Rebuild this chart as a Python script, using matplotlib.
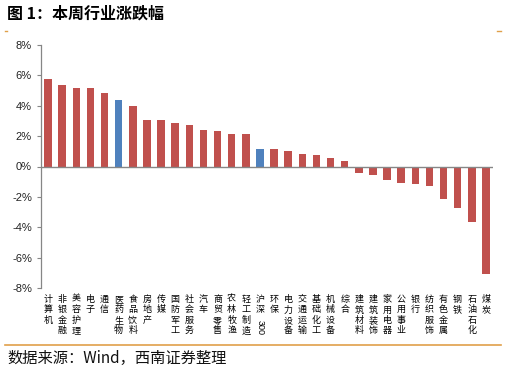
import numpy as np
import matplotlib
matplotlib.use("Agg")
import matplotlib.pyplot as plt
from matplotlib.lines import Line2D

plt.rcParams['font.family'] = ['Noto Sans CJK SC', 'DejaVu Sans']

#---------------------------------------------------------- Data
industries = ["计算机", "非银金融", "美容护理", "电子", "通信", "医药生物", "食品饮料",
              "房地产", "传媒", "国防军工", "社会服务", "汽车", "商贸零售", "农林牧渔",
              "轻工制造", "沪深300", "环保", "电力设备", "交通运输", "基础化工", "机械设备",
              "综合", "建筑材料", "建筑装饰", "家用电器", "公用事业", "银行", "纺织服饰",
              "有色金属", "钢铁", "石油石化", "煤炭"]
changes = [5.75, 5.35, 5.20, 5.20, 4.87, 4.41, 4.00, 3.04, 3.04, 2.84, 2.75, 2.40,
           2.31, 2.16, 2.16, 1.16, 1.15, 0.99, 0.84, 0.73, 0.55, 0.33, -0.40, -0.55,
           -0.86, -1.10, -1.15, -1.26, -2.11, -2.71, -3.66, -7.11]
highlight = ["医药生物", "沪深300"]
y_ticks = [8, 6, 4, 2, 0, -2, -4, -6, -8]

RED = "#C0504D"
BLUE = "#4F81BD"
ORANGE = "#E0A04A"

#---------------------------------------------------------- Figure
fig = plt.figure(figsize=(5.07, 3.76), dpi=100)
ax = fig.add_axes([41 / 507, 1 - 288 / 376, (493 - 41) / 507, (288 - 45) / 376])

x = np.arange(len(industries))
colors = [BLUE if name in highlight else RED for name in industries]
ax.bar(x, changes, width=0.53, color=colors, zorder=2)

ax.set_xlim(-0.5, len(industries) - 0.5)
ax.set_ylim(-8, 8)
ax.set_yticks(y_ticks)
ax.set_yticklabels([f"{v}%" for v in y_ticks], family=['Liberation Sans', 'DejaVu Sans'],
                   fontsize=8, color="#222222")
ax.tick_params(axis='y', length=3, width=0.8, color="#868686", pad=3.5, direction='out')
ax.set_xticks([])

for side in ["top", "right", "bottom"]:
    ax.spines[side].set_visible(False)
ax.spines["left"].set_color("#868686")
ax.spines["left"].set_linewidth(0.9)
ax.axhline(0, color="#868686", lw=1.0, zorder=3)

# vertical category labels
for i, name in enumerate(industries):
    if name == "沪深300":
        ax.annotate("沪\n深", xy=(i, 0), xycoords=('data', 'axes fraction'),
                    xytext=(0, -5), textcoords='offset points', ha='center', va='top',
                    fontsize=6.5, linespacing=1.2)
        ax.annotate("300", xy=(i, 0), xycoords=('data', 'axes fraction'),
                    xytext=(0, -23), textcoords='offset points', ha='center', va='top',
                    rotation=-90, fontsize=6.5, family=['Liberation Sans', 'DejaVu Sans'])
    else:
        ax.annotate("\n".join(name), xy=(i, 0), xycoords=('data', 'axes fraction'),
                    xytext=(0, -5), textcoords='offset points', ha='center', va='top',
                    fontsize=6.5, linespacing=1.2)

#---------------------------------------------------------- Title, source, rules
fig.text(7 / 507, 1 - 14 / 376, "图 1：本周行业涨跌幅", fontsize=11.5, fontweight='bold',
         ha='left', va='center')
fig.text(7 / 507, 1 - 358 / 376, "数据来源：Wind，西南证券整理", fontsize=11, style='italic',
         ha='left', va='center', color="#111111")

fig.add_artist(Line2D([5 / 507, 501 / 507], [1 - 345 / 376, 1 - 345 / 376],
                      color=ORANGE, lw=1.2, transform=fig.transFigure))
fig.add_artist(Line2D([5 / 507, 7 / 507], [1 - 31 / 376, 1 - 31 / 376],
                      color=ORANGE, lw=1.0, transform=fig.transFigure))
fig.add_artist(Line2D([497 / 507, 501 / 507], [1 - 31 / 376, 1 - 31 / 376],
                      color=ORANGE, lw=1.0, transform=fig.transFigure))

fig.savefig("out.png", dpi=100)
